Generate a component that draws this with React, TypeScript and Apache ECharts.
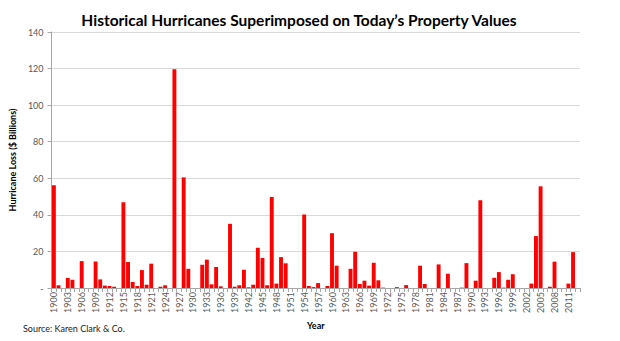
import React, { useEffect, useRef } from "react";
import * as echarts from "echarts";

const years: string[] = [];
for (let y = 1900; y <= 2013; y++) years.push(String(y));

const losses: (number | null)[] = [
  56.2, 1.5, 0, 5.5, 4.5, 0, 14.7, 0, 0, 14.5, // 1900-1909
  4.7, 1.3, 1.1, 0.7, 0, 46.9, 14.2, 3.3, 1.1, 9.8, // 1910-1919
  1.8, 13.3, 0, 0.7, 1.5, 0, 119.6, 0, 60.5, 10.5, // 1920-1929
  0, 0, 12.7, 15.5, 2, 11.5, 0.9, 0, 35.1, 0.7, // 1930-1939
  1.5, 10, 0.4, 1.8, 22, 16.4, 1.5, 49.8, 2.4, 16.9, // 1940-1949
  13.5, 0, 0, 0, 40.2, 1.1, 0.5, 2.7, 0, 1.1, // 1950-1959
  30, 12.2, 0, 0, 10.5, 19.8, 2.2, 4, 1.3, 13.8, // 1960-1969
  4.2, 0.2, 0, 0, 0.5, 0, 1.6, 0, 0, 12.2, // 1970-1979
  2.2, 0, 0, 12.9, 0, 7.8, 0, 0, 0.2, 13.6, // 1980-1989
  0, 4, 48, 0, 0, 5.6, 8.7, 0.2, 4.5, 7.5, // 1990-1999
  0, 0, 0, 2.4, 28.4, 55.6, 0, 0.7, 14.4, 0, // 2000-2009
  0, 2.4, 19.6, null, // 2010-2013
];

const titleText = "Historical Hurricanes Superimposed on Today\u2019s Property Values";
const yAxisTitle = "Hurricane Loss ($ Billions)";
const xAxisTitle = "Year";
const sourceText = "Source: Karen Clark & Co.";

const FONT = "Lato, 'Open Sans', sans-serif";

export default function App() {
  const ref = useRef<HTMLDivElement>(null);
  useEffect(() => {
    document.body.style.margin = "0";
    if (!ref.current) return;
    const chart = echarts.init(ref.current, undefined, { renderer: "svg" });
    chart.setOption({
      animation: false,
      backgroundColor: "#ffffff",
      textStyle: { fontFamily: FONT },
      title: {
        text: titleText,
        left: 294,
        top: 7,
        textAlign: "center",
        textStyle: { fontSize: 15.5, fontWeight: "bold", color: "#000", fontFamily: FONT },
      },
      grid: { left: 51, right: 40, top: 32, bottom: 53, containLabel: false },
      xAxis: {
        type: "category",
        data: years,
        name: xAxisTitle,
        nameLocation: "middle",
        nameGap: 30,
        nameTextStyle: { fontSize: 9, fontWeight: "bold", color: "#000", fontFamily: FONT },
        axisLine: { lineStyle: { color: "#a6a6a6" } },
        axisTick: { show: true, interval: 0, length: 4, lineStyle: { color: "#a6a6a6" } },
        axisLabel: { interval: 2, rotate: 90, fontSize: 9, color: "#595959", margin: 4, fontFamily: FONT },
        splitLine: { show: false },
      },
      yAxis: {
        type: "value",
        min: 0,
        max: 140,
        interval: 20,
        name: yAxisTitle,
        nameLocation: "middle",
        nameGap: 31,
        nameRotate: 90,
        nameTextStyle: { fontSize: 9, fontWeight: "bold", color: "#000", fontFamily: FONT },
        axisLine: { show: true, lineStyle: { color: "#a6a6a6" } },
        axisTick: { show: true, length: 4, lineStyle: { color: "#a6a6a6" } },
        axisLabel: {
          fontSize: 9,
          color: "#595959",
          margin: 8,
          fontFamily: FONT,
          formatter: (v: number) => (v === 0 ? "-" : String(v)),
        },
        splitLine: { lineStyle: { color: "#d9d9d9", width: 1 } },
      },
      series: [
        {
          type: "bar",
          data: losses,
          barCategoryGap: "16%",
          itemStyle: { color: "#ff0000" },
        },
      ],
      graphic: [
        {
          type: "text",
          left: 23,
          top: 324,
          style: { text: sourceText, fontSize: 9, fill: "#222", fontFamily: FONT },
        },
      ],
    });
    return () => chart.dispose();
  }, []);
  return <div ref={ref} style={{ width: 620, height: 341 }} />;
}
